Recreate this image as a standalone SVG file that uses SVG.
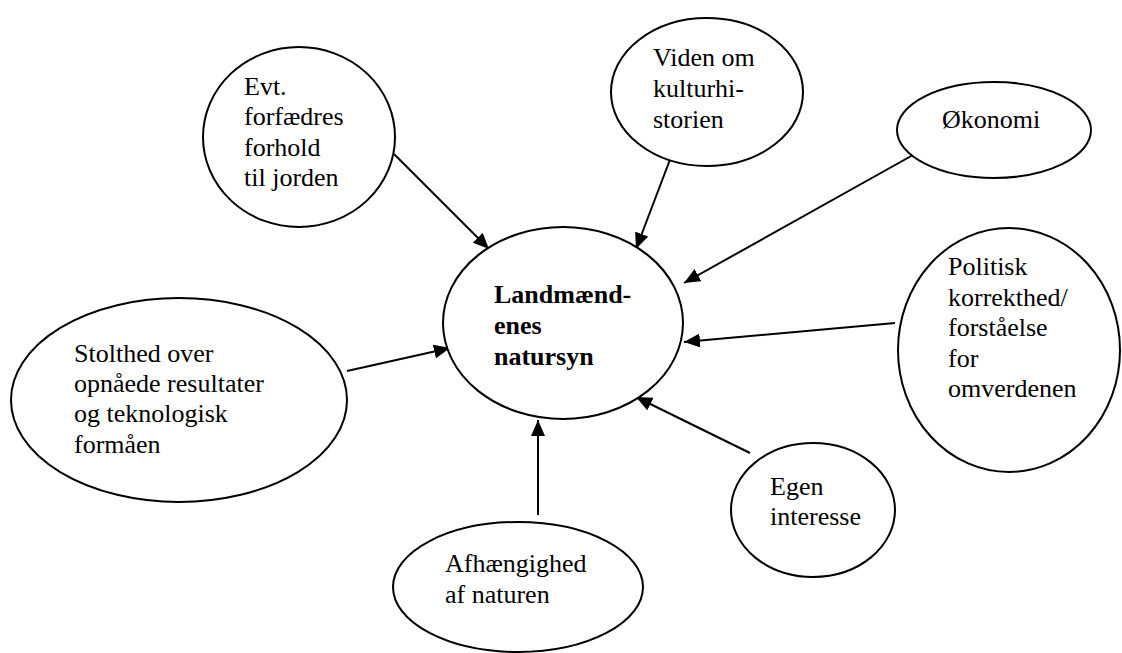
<svg xmlns="http://www.w3.org/2000/svg" width="1122" height="653" viewBox="0 0 1122 653">
<style>
.n ellipse{fill:#fff;stroke:#000;stroke-width:2}
.n text{font-family:"Liberation Serif","Times New Roman",serif;font-size:26px;fill:#000}
.b{font-weight:bold}
#edges line{stroke:#000;stroke-width:2;marker-end:url(#ah)}
</style>
<defs>
<marker id="ah" markerUnits="userSpaceOnUse" markerWidth="16" markerHeight="14" refX="16" refY="7" orient="auto">
<path d="M0,0 L16,7 L0,14 z" fill="#000"/>
</marker>
</defs>
<rect width="1122" height="653" fill="#fff"/>
<g id="edges">
<line x1="394" y1="154" x2="489" y2="249"/>
<line x1="671" y1="157" x2="636" y2="249"/>
<line x1="913" y1="155" x2="684" y2="283"/>
<line x1="895" y1="323" x2="684" y2="342"/>
<line x1="750" y1="453" x2="636" y2="397"/>
<line x1="538" y1="515" x2="538" y2="420"/>
<line x1="347" y1="371" x2="450" y2="348"/>
</g>
<g id="center" class="n">
<ellipse cx="563" cy="323" rx="120" ry="96"/>
<text class="b" x="494"><tspan x="494" y="303">Landmænd-</tspan><tspan x="494" y="334">enes</tspan><tspan x="494" y="365">natursyn</tspan></text>
</g>
<g id="evt" class="n">
<ellipse cx="299" cy="137" rx="96" ry="90"/>
<text><tspan x="244" y="95">Evt.</tspan><tspan x="244" y="125">forfædres</tspan><tspan x="244" y="156">forhold</tspan><tspan x="244" y="186">til jorden</tspan></text>
</g>
<g id="viden" class="n">
<ellipse cx="707" cy="92" rx="96" ry="74"/>
<text><tspan x="653" y="66">Viden om</tspan><tspan x="653" y="97">kulturhi-</tspan><tspan x="653" y="128">storien</tspan></text>
</g>
<g id="okonomi" class="n">
<ellipse cx="994" cy="130" rx="97" ry="48"/>
<text x="942" y="128">Økonomi</text>
</g>
<g id="politisk" class="n">
<ellipse cx="1009" cy="350" rx="111" ry="122"/>
<text><tspan x="948" y="275">Politisk</tspan><tspan x="948" y="306">korrekthed/</tspan><tspan x="948" y="336">forståelse</tspan><tspan x="948" y="367">for</tspan><tspan x="948" y="397">omverdenen</tspan></text>
</g>
<g id="egen" class="n">
<ellipse cx="813" cy="510" rx="82" ry="67"/>
<text><tspan x="770" y="495">Egen</tspan><tspan x="770" y="525">interesse</tspan></text>
</g>
<g id="afh" class="n">
<ellipse cx="518" cy="587" rx="125" ry="65"/>
<text><tspan x="445" y="572">Afhængighed</tspan><tspan x="445" y="603">af naturen</tspan></text>
</g>
<g id="stolthed" class="n">
<ellipse cx="179" cy="400" rx="168" ry="102"/>
<text><tspan x="74" y="362">Stolthed over</tspan><tspan x="74" y="392">opnåede resultater</tspan><tspan x="74" y="422">og teknologisk</tspan><tspan x="74" y="453">formåen</tspan></text>
</g>
</svg>
